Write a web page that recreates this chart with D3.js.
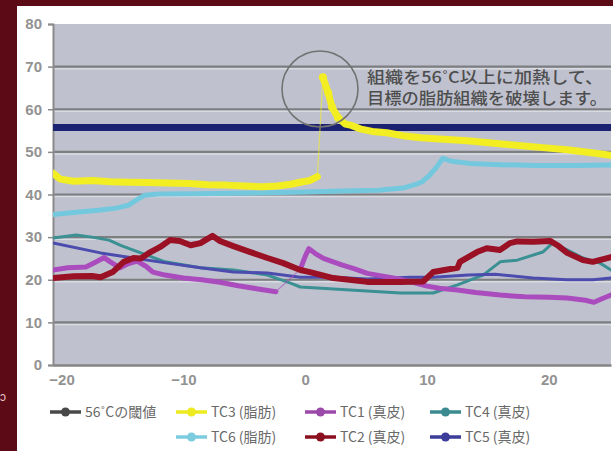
<!DOCTYPE html>
<html>
<head>
<meta charset="utf-8">
<script src="https://cdn.jsdelivr.net/npm/d3@7"></script>
<style>
  html, body { margin: 0; padding: 0; background: #5c0a16; }
  svg { display: block; }
</style>
</head>
<body>
<div id="chart"></div>
<script>
// threshold line
const thresholdX = [-20.7, 25.1];
const thresholdY = [55.7, 55.7];

// TC3 (fat) - yellow, null marks the thin jump to the spike
const tc3X = [-20.7, -20.1, -19.0, -17.5, -16.0, -14.5, -13.0, -11.3, -9.5, -8.0, -6.5, -5.0, -3.5, -2.3, -1.2, -0.2, 0.4, 1.0,
  null, 1.45, 1.9, 2.2, 2.7, 3.3, 3.8, 4.5, 5.5, 6.7, 8.0, 9.5, 11.0, 13.3, 15.5, 17.5, 19.5, 21.5, 23.5, 25.1];
const tc3Y = [45.0, 43.6, 43.1, 43.3, 43.0, 42.9, 42.8, 42.7, 42.6, 42.3, 42.2, 42.0, 41.8, 42.0, 42.4, 43.0, 43.3, 44.2,
  null, 67.5, 63.8, 60.5, 58.0, 56.5, 56.2, 55.4, 54.8, 54.5, 53.8, 53.3, 53.0, 52.6, 52.0, 51.5, 51.0, 50.5, 49.8, 49.2];

// TC6 (fat) - light blue
const tc6X = [-20.7, -19.0, -17.0, -15.5, -14.5, -13.8, -13.2, -12.0, -9.0, -6.0, -3.0, 0.0, 3.0, 6.0, 8.0, 9.0, 9.6, 10.2, 10.8, 11.3, 12.0, 13.5, 16.0, 19.0, 22.0, 25.1];
const tc6Y = [35.3, 35.8, 36.3, 36.8, 37.5, 38.8, 39.8, 40.1, 40.2, 40.3, 40.4, 40.6, 40.8, 41.0, 41.5, 42.3, 43.0, 44.5, 46.5, 48.5, 47.8, 47.3, 47.0, 46.8, 46.8, 46.9];

// TC1 (dermis) - purple
const tc1X = [-20.7, -19.5, -18.0, -17.3, -16.5, -16.0, -15.2, -14.5, -13.8, -13.0, -12.5, -11.5, -10.0, -8.5, -7.0, -5.5, -4.0, -2.4,
  null, -0.4, 0.0, 0.3, 0.8, 1.5, 2.3, 3.0, 4.0, 5.1, 6.5, 7.8, 9.0, 10.0, 11.0, 12.5, 14.0, 16.0, 18.0, 20.0, 21.5, 23.0, 23.7, 24.4, 25.1];
const tc1Y = [22.3, 22.8, 23.0, 24.0, 25.2, 24.2, 22.8, 23.8, 24.4, 23.0, 21.8, 21.1, 20.4, 20.0, 19.4, 18.6, 17.9, 17.2,
  null, 22.5, 25.5, 27.3, 26.2, 25.0, 24.2, 23.5, 22.6, 21.5, 20.8, 20.1, 19.3, 18.5, 18.0, 17.6, 17.0, 16.4, 16.0, 15.9, 15.7, 15.2, 14.7, 15.6, 16.4];

// TC2 (dermis) - dark red
const tc2X = [-20.7, -19.0, -17.5, -16.8, -15.8, -14.9, -14.1, -13.5, -12.7, -11.9, -11.1, -10.3, -9.4, -8.6, -7.6, -7.0, -5.9, -4.5, -3.1, -1.8, -0.4,
  0.4, 2.3, 5.1, 7.8, 9.7, 10.5, 12.5, 12.7, 14.1, 14.9, 16.0, 16.8, 17.4, 18.7, 20.1, 20.7, 21.5, 22.8, 23.6, 25.1];
const tc2Y = [20.4, 20.8, 20.9, 20.6, 21.8, 24.2, 25.1, 25.0, 26.5, 27.7, 29.3, 29.1, 28.1, 28.6, 30.3, 29.1, 27.9, 26.5, 25.1, 23.9, 22.3,
  21.8, 20.4, 19.5, 19.5, 19.6, 21.8, 22.8, 24.2, 26.5, 27.4, 27.0, 28.6, 29.0, 28.9, 29.1, 28.1, 26.3, 24.6, 24.2, 25.3];

// TC4 (dermis) - teal
const tc4X = [-20.7, -18.8, -17.5, -16.1, -15.1, -13.5, -11.5, -8.6, -5.9, -3.1, -1.2, -0.4, 3.7, 7.8, 10.5, 12.5, 14.6, 16.0, 17.4, 19.5, 20.3, 21.5, 22.8, 24.2, 25.1];
const tc4Y = [29.8, 30.5, 30.0, 29.3, 28.0, 26.3, 24.2, 22.8, 22.3, 21.1, 19.2, 18.3, 17.6, 16.9, 16.9, 18.8, 21.1, 24.2, 24.6, 26.5, 28.6, 27.0, 25.1, 23.9, 22.3];

// TC5 (dermis) - slate blue
const tc5X = [-20.7, -16.8, -14.1, -11.3, -8.6, -5.9, -3.1, -0.4, 2.3, 5.1, 8.6, 10.5, 13.4, 15.6, 18.7, 21.5, 23.6, 25.1];
const tc5Y = [28.6, 26.3, 25.1, 23.9, 22.8, 21.8, 21.6, 20.6, 20.6, 20.2, 20.6, 20.6, 21.1, 21.3, 20.4, 20.0, 20.0, 20.4];

const xTicks = [-20, -10, 0, 10, 20];
const yTicks = [0, 10, 20, 30, 40, 50, 60, 70, 80];

const legendLabels = ["56˚Cの閾値", "TC3 (脂肪)", "TC1 (真皮)", "TC4 (真皮)", "TC6 (脂肪)", "TC2 (真皮)", "TC5 (真皮)"];
const noteLines = ["組織を56˚C以上に加熱して、", "目標の脂肪組織を破壊します。"];

const width = 613;
const height = 451;
const plot = { left: 53, right: 611, top: 24, bottom: 365 };

let svg = d3.select("#chart")
  .append("svg")
  .attr("width", width)
  .attr("height", height);

// maroon frame + white panel
svg.append("rect").attr("width", width).attr("height", height).attr("fill", "#5c0a16");
svg.append("rect").attr("x", 17).attr("y", 6).attr("width", width - 17).attr("height", height - 6).attr("fill", "#ffffff");
svg.append("text").attr("x", 0).attr("y", 401).attr("fill", "#e6c4c8")
  .style("font-family", "Liberation Sans, Arial").style("font-size", "12px").text("ɔ");

let x = d3.scaleLinear().domain([-20.7, 25.1]).range([plot.left, plot.right]);
let y = d3.scaleLinear().domain([0, 80]).range([plot.bottom, plot.top]);

svg.append("rect")
  .attr("x", plot.left).attr("y", plot.top)
  .attr("width", plot.right - plot.left).attr("height", plot.bottom - plot.top)
  .attr("fill", "#bfc2ce");

svg.append("clipPath").attr("id", "clip")
  .append("rect")
  .attr("x", plot.left).attr("y", plot.top)
  .attr("width", plot.right - plot.left).attr("height", plot.bottom - plot.top);

// grid lines
let grid = svg.append("g");
grid.selectAll("line.lt")
  .data(yTicks.filter(d => d > 0 && d < 80))
  .enter().append("line")
  .attr("class", "lt")
  .attr("x1", plot.left).attr("x2", plot.right)
  .attr("y1", d => y(d) + 2).attr("y2", d => y(d) + 2)
  .attr("stroke", "#d9dbe2").attr("stroke-width", 1.5);
grid.selectAll("line.dk")
  .data(yTicks.filter(d => d > 0 && d < 80))
  .enter().append("line")
  .attr("class", "dk")
  .attr("x1", plot.left).attr("x2", plot.right)
  .attr("y1", d => y(d)).attr("y2", d => y(d))
  .attr("stroke", "#7e7e80").attr("stroke-width", 2.2);

// axes
let yAxis = d3.axisLeft(y).tickValues(yTicks).tickSize(5).tickPadding(6);
let xAxis = d3.axisBottom(x).tickValues(xTicks).tickSize(0).tickPadding(9);

let gy = svg.append("g").attr("transform", "translate(" + plot.left + ",0)").call(yAxis);
let gx = svg.append("g").attr("transform", "translate(0," + plot.bottom + ")").call(xAxis);
gy.select(".domain").attr("stroke", "#8a8a8a").attr("stroke-width", 2);
gy.selectAll(".tick line").attr("stroke", "#8a8a8a").attr("stroke-width", 1.5);
gx.select(".domain").attr("stroke", "#858585").attr("stroke-width", 2.5);
svg.selectAll(".tick text")
  .attr("fill", "#929292")
  .style("font-family", "Liberation Sans, Arial")
  .style("font-size", "15px")
  .style("font-weight", "bold");

// series
function pts(xs, ys) {
  return xs.map((d, i) => (d === null ? null : { x: d, y: ys[i] }));
}
let thickLine = d3.line()
  .defined(d => d !== null)
  .x(d => x(d.x))
  .y(d => y(d.y));

let series = [
  { xs: tc6X, ys: tc6Y, color: "#74c8de", w: 5 },
  { xs: thresholdX, ys: thresholdY, color: "#1c2272", w: 7 },
  { xs: tc3X, ys: tc3Y, color: "#f2ee22", w: 7 },
  { xs: tc4X, ys: tc4Y, color: "#3a9092", w: 3 },
  { xs: tc5X, ys: tc5Y, color: "#4c4cae", w: 3 },
  { xs: tc1X, ys: tc1Y, color: "#ab4cbe", w: 5 },
  { xs: tc2X, ys: tc2Y, color: "#9a1024", w: 6 }
];

let lines = svg.append("g").attr("clip-path", "url(#clip)");
series.forEach(s => {
  let data = pts(s.xs, s.ys);
  // thin connector across gaps
  lines.append("path")
    .datum(data.filter(d => d !== null))
    .attr("d", thickLine)
    .attr("fill", "none")
    .attr("stroke", s.color)
    .attr("stroke-opacity", 0.6)
    .attr("stroke-width", 1.2);
  lines.append("path")
    .datum(data)
    .attr("d", thickLine)
    .attr("fill", "none")
    .attr("stroke", s.color)
    .attr("stroke-width", s.w)
    .attr("stroke-linejoin", "round")
    .attr("stroke-linecap", "round");
});

// dots on the TC3 spike
let spike = pts(tc3X, tc3Y).filter(d => d !== null && d.y > 57);
lines.selectAll("circle.spike")
  .data(spike)
  .enter().append("circle")
  .attr("class", "spike")
  .attr("cx", d => x(d.x)).attr("cy", d => y(d.y))
  .attr("r", 4).attr("fill", "#f2ee22");

// annotation
svg.append("circle")
  .attr("cx", 320).attr("cy", 89).attr("r", 38)
  .attr("fill", "none").attr("stroke", "#727272").attr("stroke-width", 1.6);

svg.append("g").selectAll("text")
  .data(noteLines)
  .enter().append("text")
  .attr("x", 367)
  .attr("y", (d, i) => 83 + i * 20.5)
  .attr("fill", "#4e4e4e")
  .attr("textLength", (d, i) => (i === 0 ? 236 : 240))
  .attr("lengthAdjust", "spacingAndGlyphs")
  .style("font-family", "Noto Sans CJK JP")
  .style("font-size", "16px")
  .style("font-weight", 500)
  .text(d => d);

// legend
let legendColors = ["#484848", "#eeea20", "#9c4aaa", "#3a8a90", "#7ccce0", "#8a1020", "#3c3c9a"];
let legendPos = [[50, 412], [176, 412], [305, 412], [430, 412], [176, 437], [305, 437], [430, 437]];

let legend = svg.append("g").selectAll("g")
  .data(legendLabels)
  .enter().append("g")
  .attr("transform", (d, i) => "translate(" + legendPos[i][0] + "," + legendPos[i][1] + ")");
legend.append("line")
  .attr("x1", 0).attr("x2", 31).attr("y1", 0).attr("y2", 0)
  .attr("stroke", (d, i) => legendColors[i]).attr("stroke-width", 3.5);
legend.append("circle")
  .attr("cx", 15.5).attr("cy", 0).attr("r", 4.5)
  .attr("fill", (d, i) => legendColors[i]);
legend.append("text")
  .attr("x", 35).attr("y", 5)
  .attr("fill", "#6a6a6a")
  .style("font-family", "Noto Sans CJK JP")
  .style("font-size", "14px")
  .text(d => d);
</script>
</body>
</html>
